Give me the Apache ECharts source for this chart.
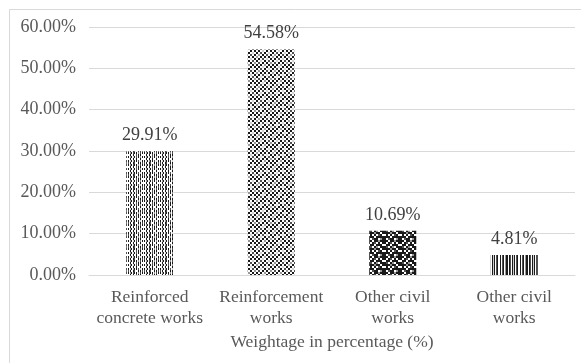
<!DOCTYPE html>
<html>
<head>
<meta charset="utf-8">
<script src="https://cdn.jsdelivr.net/npm/echarts@6/dist/echarts.min.js"></script>
<style>
html,body{margin:0;padding:0;background:#fff;}
#chart{width:581px;height:363px;}
</style>
</head>
<body>
<div id="chart"></div>
<script>
const categories = ['Reinforced\nconcrete works', 'Reinforcement\nworks', 'Other civil\nworks', 'Other civil\nworks'];
const values = [29.91, 54.58, 10.69, 4.81];
const yTicks = [0, 10, 20, 30, 40, 50, 60];
const axisTitle = 'Weightage in percentage (%)';

// Build a tiled canvas pattern from a grid of grey levels (0 = black, 255 = white),
// each cell drawn as an sx-by-sy block of pixels
function makeTile(rows, sx, sy) {
  sx = sx || 1; sy = sy || 1;
  const h = rows.length, w = rows[0].length;
  const c = document.createElement('canvas');
  c.width = w * sx; c.height = h * sy;
  const ctx = c.getContext('2d');
  for (let y = 0; y < h; y++) {
    for (let x = 0; x < w; x++) {
      const v = rows[y][x];
      ctx.fillStyle = 'rgb(' + v + ',' + v + ',' + v + ')';
      ctx.fillRect(x * sx, y * sy, sx, sy);
    }
  }
  return { image: c, repeat: 'repeat' };
}
const K = 25, D = 80, M = 150, L = 205, W = 255;
// dotted vertical stripes
const tileDots = makeTile([
  [K, W, M, K, W, L, K, W, D, W, K, W, M, W, K, W],
  [W, W, K, W, W, K, W, W, K, W, W, W, K, W, W, W],
  [K, W, L, K, W, M, K, W, K, W, D, W, L, W, K, W],
  [D, W, K, W, W, K, D, W, W, W, K, W, K, W, D, W],
  [K, W, M, K, W, D, K, W, K, W, M, W, D, W, K, W],
  [W, W, K, W, W, K, W, W, D, W, K, W, K, W, W, W]
], 1, 2);
// light lattice
const tileLattice = makeTile([
  [K, W, K, W, M, W, K, W],
  [W, K, W, L, W, K, W, K],
  [K, W, D, W, K, W, L, W],
  [W, M, W, K, W, D, W, K],
  [M, W, K, W, K, W, K, W],
  [W, K, W, D, W, L, W, K],
  [K, W, L, W, K, W, D, W],
  [W, D, W, K, W, K, W, M]
], 2, 2);
// dark lattice
const tileDark = makeTile([
  [K, K, W, K, K, M, K, K],
  [K, W, K, D, W, K, W, K],
  [W, K, K, W, K, K, K, W],
  [K, D, W, K, M, W, K, K],
  [K, K, K, M, K, K, W, K],
  [W, K, W, K, W, D, K, W],
  [K, K, K, W, K, K, K, K],
  [K, W, D, K, K, W, M, K]
], 2, 2);
// vertical bars of varying grey
const tileBars = makeTile([
  [K, W, D, K, W, M, K, K, W, K, D, W, K, L, K, W, D, K, W, W],
  [K, W, D, K, W, M, K, K, W, K, D, W, K, L, K, W, D, K, W, W]
], 1, 1);
const fills = [tileDots, tileLattice, tileDark, tileBars];

const chart = echarts.init(document.getElementById('chart'), null, { renderer: 'canvas' });
const textColor = '#595959';
const fontFamily = '"Liberation Serif", "Times New Roman", serif';

chart.setOption({
  animation: false,
  backgroundColor: '#fff',
  graphic: [{
    type: 'rect',
    shape: { x: 9.5, y: 9.5, width: 600, height: 400 },
    style: { fill: 'none', stroke: '#d9d9d9', lineWidth: 1 },
    silent: true
  }],
  grid: { left: 89, right: 6, top: 27, bottom: 88, containLabel: false },
  xAxis: {
    type: 'category',
    data: categories,
    name: axisTitle,
    nameLocation: 'middle',
    nameGap: 58,
    nameTextStyle: { color: textColor, fontFamily, fontSize: 17.5 },
    axisTick: { show: false },
    axisLine: { lineStyle: { color: '#d9d9d9' } },
    axisLabel: { color: textColor, fontFamily, fontSize: 17.5, lineHeight: 21, margin: 12, interval: 0 }
  },
  yAxis: {
    type: 'value',
    min: yTicks[0],
    max: yTicks[yTicks.length - 1],
    interval: 10,
    axisLine: { show: false },
    axisTick: { show: false },
    splitLine: { lineStyle: { color: '#d9d9d9' } },
    axisLabel: {
      color: textColor, fontFamily, fontSize: 18, margin: 13,
      formatter: v => v.toFixed(2) + '%'
    }
  },
  series: [{
    type: 'bar',
    barWidth: 47,
    data: values.map((v, i) => ({ value: v, itemStyle: { color: fills[i] } })),
    label: {
      show: true,
      position: 'top',
      distance: 7,
      color: '#404040',
      fontFamily,
      fontSize: 18,
      formatter: p => p.value.toFixed(2) + '%'
    }
  }]
});
</script>
</body>
</html>
